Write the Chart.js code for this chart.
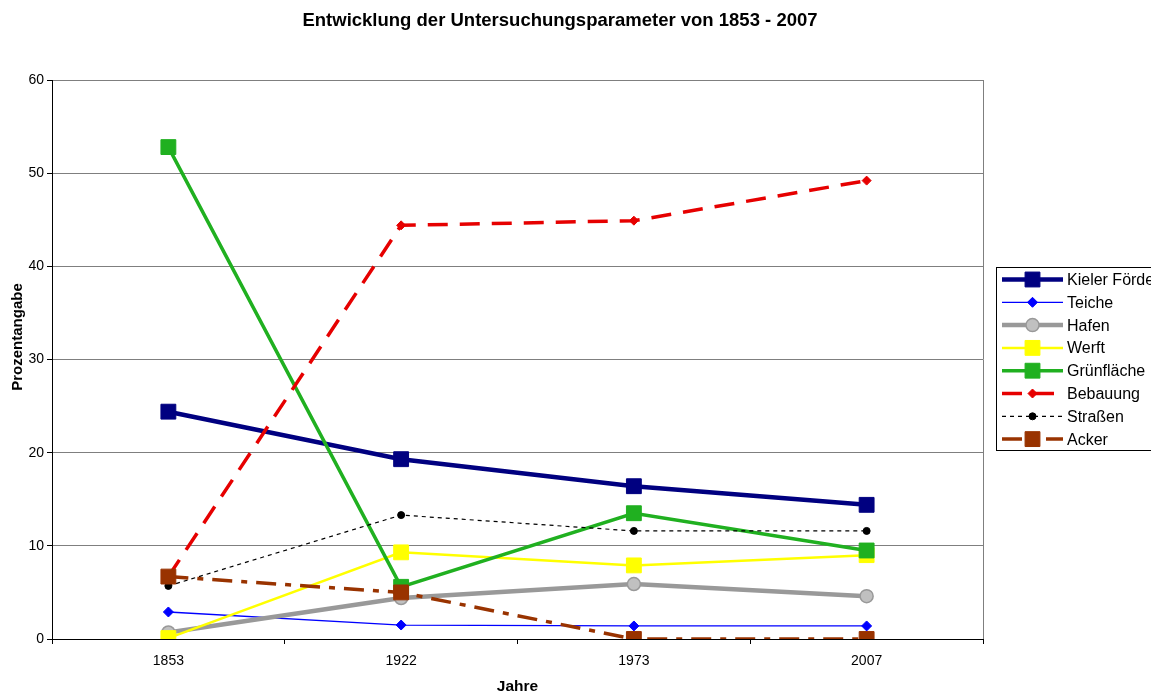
<!DOCTYPE html>
<html>
<head>
<meta charset="utf-8">
<script src="https://cdn.jsdelivr.net/npm/chart.js@4/dist/chart.umd.min.js"></script>
<style>
html,body{margin:0;padding:0;background:#fff;overflow:hidden;}
#wrap{width:1151px;height:693px;position:relative;}
</style>
</head>
<body>
<div id="wrap"><canvas id="c" width="1151" height="693"></canvas></div>
<script>
const categories = ['1853', '1922', '1973', '2007'];
const kielerFoerde = [24.4, 19.3, 16.4, 14.4];
const teiche       = [2.9, 1.5, 1.4, 1.4];
const hafen        = [0.7, 4.4, 5.9, 4.6];
const werft        = [0.1, 9.3, 7.9, 9.0];
const gruenflaeche = [52.8, 5.6, 13.5, 9.5];
const bebauung     = [6.7, 44.4, 44.9, 49.2];
const strassen     = [5.7, 13.3, 11.6, 11.6];
const acker        = [6.7, 5.0, 0.0, 0.0];
const seriesNames = ['Kieler Förde','Teiche','Hafen','Werft','Grünfläche','Bebauung','Straßen','Acker'];
const yTicks = [0, 10, 20, 30, 40, 50, 60];

const FONT = "Arial, 'Liberation Sans', sans-serif";

const styles = [
  {color:'#000080', width:4.5, dash:[], pt:'rect', r:10.5, fill:'#000080', pb:'#000080', pbw:1},
  {color:'#0000FF', width:1.3, dash:[], pt:'rectRot', r:5, fill:'#0000FF', pb:'#0000FF', pbw:1},
  {color:'#999999', width:4.5, dash:[], pt:'circle', r:6.5, fill:'#C0C0C0', pb:'#999999', pbw:1.5},
  {color:'#FFFF00', width:2.5, dash:[], pt:'rect', r:10.5, fill:'#FFFF00', pb:'#FFFF00', pbw:1},
  {color:'#20B020', width:3.5, dash:[], pt:'rect', r:10.5, fill:'#20B020', pb:'#20B020', pbw:1},
  {color:'#E60000', width:3.5, dash:[20,12], pt:'rectRot', r:4.5, fill:'#E60000', pb:'#E60000', pbw:1},
  {color:'#000000', width:1.2, dash:[4,4], pt:'circle', r:3.5, fill:'#000000', pb:'#000000', pbw:1},
  {color:'#993300', width:3.5, dash:[20,9,6,9], pt:'rect', r:10.5, fill:'#993300', pb:'#993300', pbw:1}
];
const values = [kielerFoerde, teiche, hafen, werft, gruenflaeche, bebauung, strassen, acker];

const datasets = values.map((v, i) => ({
  label: seriesNames[i],
  data: v,
  borderColor: styles[i].color,
  backgroundColor: styles[i].fill,
  borderWidth: styles[i].width,
  borderDash: styles[i].dash,
  pointStyle: styles[i].pt,
  pointRadius: styles[i].r,
  pointHoverRadius: styles[i].r,
  pointBackgroundColor: styles[i].fill,
  pointBorderColor: styles[i].pb,
  pointBorderWidth: styles[i].pbw,
  tension: 0,
  fill: false,
  order: -i
}));

function drawMarker(ctx, st, x, y) {
  ctx.save();
  ctx.setLineDash([]);
  ctx.fillStyle = st.fill;
  ctx.strokeStyle = st.pb;
  ctx.lineWidth = st.pbw;
  ctx.beginPath();
  if (st.pt === 'rect') {
    const s = Math.SQRT1_2 * st.r;
    ctx.rect(x - s, y - s, 2 * s, 2 * s);
  } else if (st.pt === 'rectRot') {
    ctx.moveTo(x, y - st.r); ctx.lineTo(x + st.r, y); ctx.lineTo(x, y + st.r); ctx.lineTo(x - st.r, y); ctx.closePath();
  } else {
    ctx.arc(x, y, st.r, 0, Math.PI * 2);
  }
  ctx.fill(); ctx.stroke();
  ctx.restore();
}

const decor = {
  id: 'decor',
  afterDraw(chart) {
    const ctx = chart.ctx, a = chart.chartArea;
    ctx.save();
    // right border of plot area
    ctx.strokeStyle = '#7f7f7f'; ctx.lineWidth = 1;
    ctx.beginPath(); ctx.moveTo(Math.round(a.right) + 0.5, a.top); ctx.lineTo(Math.round(a.right) + 0.5, a.bottom); ctx.stroke();
    // title
    ctx.fillStyle = '#000';
    ctx.font = "bold 18.5px " + FONT;
    ctx.textAlign = 'center'; ctx.textBaseline = 'middle';
    ctx.fillText('Entwicklung der Untersuchungsparameter von 1853 - 2007', 560, 21);
    // y title
    ctx.save();
    ctx.translate(18, 337); ctx.rotate(-Math.PI / 2);
    ctx.font = "bold 15px " + FONT;
    ctx.fillText('Prozentangabe', 0, 0);
    ctx.restore();
    // legend
    const lx = 996.5, ly = 267.5, lw = 200, lh = 183;
    ctx.fillStyle = '#fff'; ctx.fillRect(lx, ly, lw, lh);
    ctx.strokeStyle = '#000'; ctx.lineWidth = 1; ctx.strokeRect(lx, ly, lw, lh);
    chart.data.datasets.forEach((ds, i) => {
      const st = styles[i];
      const y = 279.5 + i * 22.8;
      ctx.save();
      ctx.strokeStyle = st.color; ctx.lineWidth = st.width;
      ctx.setLineDash(st.dash); ctx.lineDashOffset = 0;
      ctx.beginPath(); ctx.moveTo(1002, y); ctx.lineTo(1063, y); ctx.stroke();
      ctx.restore();
      drawMarker(ctx, st, 1032.5, y);
      ctx.fillStyle = '#000';
      ctx.font = "16px " + FONT;
      ctx.textAlign = 'left'; ctx.textBaseline = 'middle';
      ctx.fillText(ds.label, 1067, y + 1);
    });
    ctx.restore();
  }
};

new Chart(document.getElementById('c'), {
  type: 'line',
  data: { labels: categories, datasets },
  options: {
    responsive: false,
    animation: false,
    events: [],
    layout: { padding: { left: 0, top: 80, right: 168, bottom: 0 } },
    plugins: { legend: { display: false }, title: { display: false }, tooltip: { enabled: false } },
    scales: {
      x: {
        offset: true,
        grid: { display: true, drawOnChartArea: false, drawTicks: true, tickLength: 5, offset: true, color: '#000', tickColor: '#000' },
        border: { color: '#000', width: 1 },
        ticks: { color: '#000', font: { family: FONT, size: 14 }, padding: 9, maxRotation: 0 },
        title: { display: true, text: 'Jahre', color: '#000', font: { family: FONT, size: 15.5, weight: 'bold', lineHeight: 0.8 }, padding: { top: 0, bottom: 0 } },
        afterFit(s) { s.height = 54; }
      },
      y: {
        min: 0, max: 60,
        afterBuildTicks(s) { s.ticks = yTicks.map(v => ({ value: v })); },
        grid: { color: '#7f7f7f', tickColor: '#000', tickLength: 5, lineWidth: 1 },
        border: { color: '#000', width: 1 },
        ticks: { color: '#000', font: { family: FONT, size: 14 }, padding: 3 },
        afterFit(s) { s.width = 52; }
      }
    }
  },
  plugins: [decor]
});
</script>
</body>
</html>
